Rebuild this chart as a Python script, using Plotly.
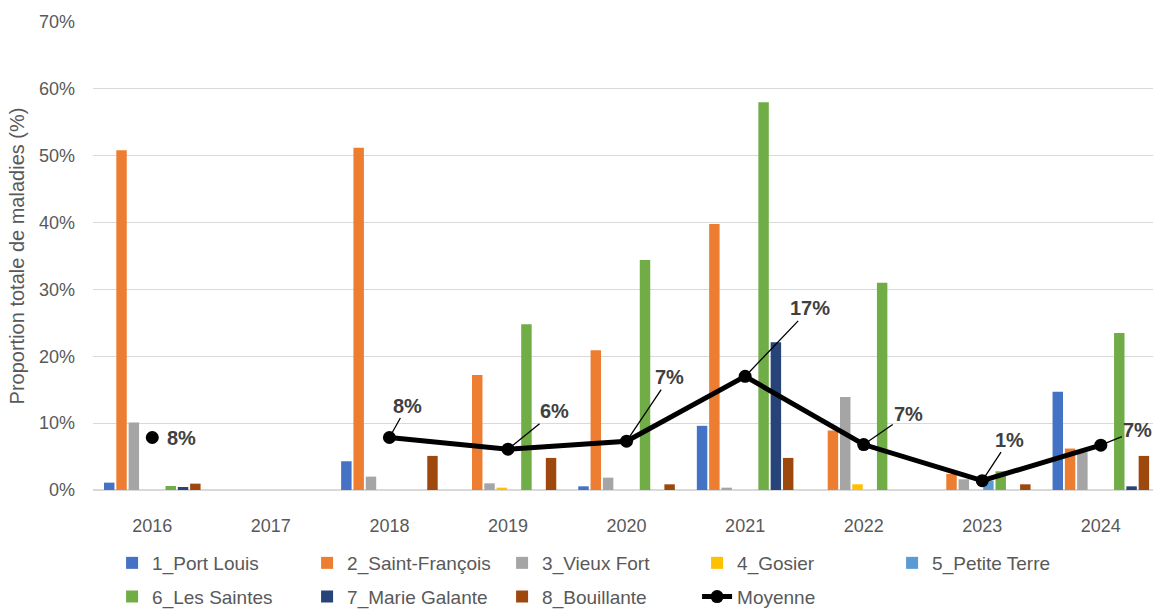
import plotly.graph_objects as go

years = ["2016", "2017", "2018", "2019", "2020", "2021", "2022", "2023", "2024"]

port_louis     = [1.1, None, 4.3, 0.0, 0.55, 9.6, 0.0, 0.0, 14.7]
saint_francois = [50.8, None, 51.2, 17.2, 20.9, 39.8, 8.9, 2.4, 6.2]
vieux_fort     = [10.1, None, 2.0, 1.0, 1.85, 0.35, 13.9, 1.6, 5.65]
gosier         = [0.0, None, 0.0, 0.35, 0.0, 0.0, 0.85, 0.0, 0.0]
petite_terre   = [0.0, None, 0.0, 0.0, 0.0, 0.0, 0.0, 1.4, 0.0]
les_saintes    = [0.6, None, 0.0, 24.8, 34.4, 58.0, 31.0, 2.8, 23.5]
marie_galante  = [0.45, None, 0.0, 0.0, 0.0, 22.1, 0.0, 0.0, 0.55]
bouillante     = [0.95, None, 5.1, 4.8, 0.85, 4.8, 0.0, 0.85, 5.1]
moyenne        = [7.85, None, 7.85, 6.1, 7.3, 17.0, 6.8, 1.4, 6.7]
moyenne_labels = ["8%", None, "8%", "6%", "7%", "17%", "7%", "1%", "7%"]

series_names = ["1_Port Louis", "2_Saint-François", "3_Vieux Fort", "4_Gosier",
                "5_Petite Terre", "6_Les Saintes", "7_Marie Galante", "8_Bouillante"]
series_values = [port_louis, saint_francois, vieux_fort, gosier,
                 petite_terre, les_saintes, marie_galante, bouillante]
colors = ["#4472C4", "#ED7D31", "#A5A5A5", "#FFC000",
          "#5B9BD5", "#70AD47", "#264478", "#9E480E"]

# label offsets (pixels) relative to each marker
label_offsets = [(29, 0), None, (18, -32), (47, -38), (43, -64),
                 (65, -68), (45, -31), (27, -41), (37, -15)]

FONT = "Liberation Sans Narrow, Liberation Sans, Arial, sans-serif"

fig = go.Figure()
for i, (name, vals, col) in enumerate(zip(series_names, series_values, colors)):
    fig.add_trace(go.Bar(
        x=years, y=vals, name=name, marker_color=col, marker_line_width=0,
        legend="legend" if i < 5 else "legend2",
    ))

fig.add_trace(go.Scatter(
    x=years, y=moyenne, name="Moyenne", mode="lines+markers",
    line=dict(color="black", width=5), marker=dict(color="black", size=13),
    connectgaps=False, legend="legend2",
))

for idx, (v, lab, off) in enumerate(zip(moyenne, moyenne_labels, label_offsets)):
    if v is None or off is None:
        continue
    ax, ay = off
    if ay == 0:
        fig.add_annotation(x=idx, y=v, xref="x", yref="y",
                           text=f"<b>{lab}</b>", showarrow=False,
                           xshift=ax, yshift=-ay,
                           font=dict(family=FONT, size=20, color="#404040"))
    else:
        fig.add_annotation(x=idx, y=v, xref="x", yref="y",
                           text=f"<b>{lab}</b>", showarrow=True,
                           ax=ax, ay=ay, arrowhead=0, arrowwidth=1.3,
                           arrowcolor="black", standoff=4,
                           font=dict(family=FONT, size=20, color="#404040"))

legend_common = dict(orientation="h", xanchor="left", yanchor="middle",
                     font=dict(family=FONT, size=19, color="#595959"),
                     entrywidth=150, entrywidthmode="pixels",
                     bgcolor="rgba(0,0,0,0)", itemclick=False)

fig.update_layout(
    width=1153, height=610,
    margin=dict(l=93, r=0, t=22, b=120, autoexpand=False),
    plot_bgcolor="white", paper_bgcolor="white",
    barmode="group", bargap=0.17, bargroupgap=0.15,
    font=dict(family=FONT, size=19, color="#595959"),
    legend=dict(x=0.018, y=-0.156, **legend_common),
    legend2=dict(x=0.018, y=-0.228, **legend_common),
    xaxis=dict(type="category", range=[-0.5, 8.44], showgrid=False,
               showline=False, ticks="", ticklabelstandoff=23,
               tickfont=dict(family=FONT, size=18, color="#595959")),
    yaxis=dict(range=[0, 70], dtick=10, ticksuffix="%", showgrid=True,
               gridcolor="#D9D9D9", gridwidth=1, zeroline=True,
               zerolinecolor="#D9D9D9", zerolinewidth=1.5, showline=False,
               ticklabelstandoff=17,
               tickfont=dict(family=FONT, size=18, color="#595959"),
               title=dict(text="Proportion totale de maladies (%)", standoff=8,
                          font=dict(family=FONT, size=20, color="#595959"))),
)

fig.write_html("out.html")
